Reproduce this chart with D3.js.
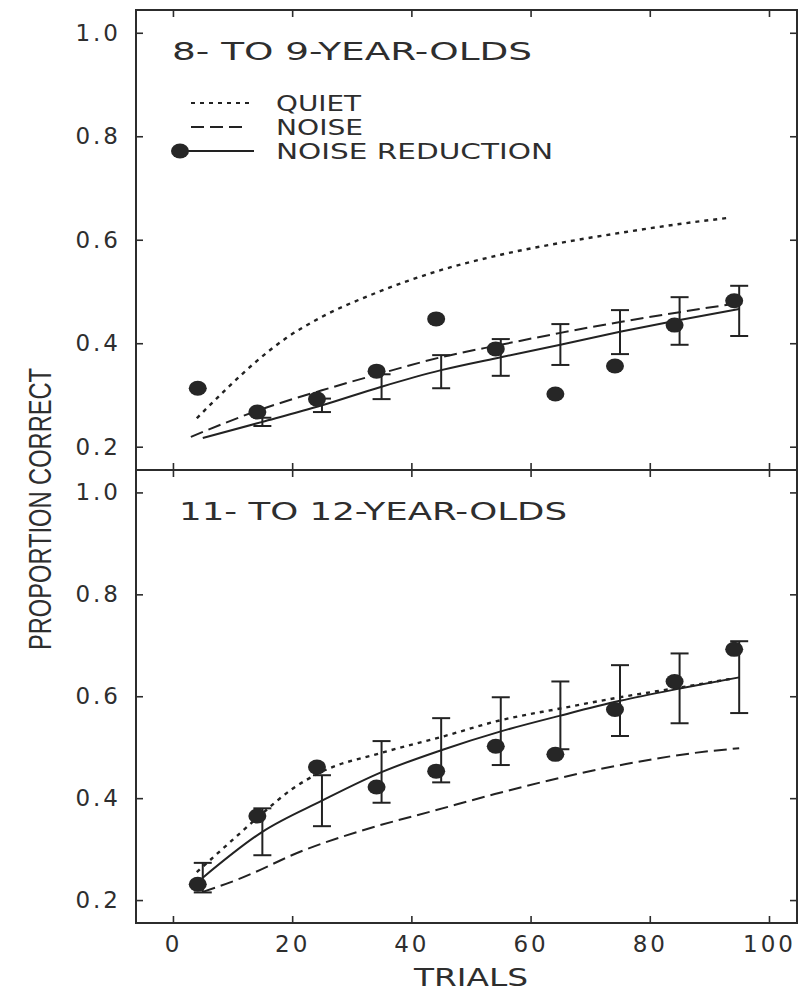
<!DOCTYPE html>
<html>
<head>
<meta charset="utf-8">
<script src="https://cdn.jsdelivr.net/npm/d3@7/dist/d3.min.js"></script>
<style>
  body { margin: 0; background: #fff; }
  svg { display: block; }
</style>
</head>
<body>
<svg id="chart" width="804" height="991"></svg>
<script>
// ---- data -------------------------------------------------------------
const trialTicks = [0, 20, 40, 60, 80, 100];
const propTicks = [0.2, 0.4, 0.6, 0.8, 1.0];
const blockTrials = [5, 15, 25, 35, 45, 55, 65, 75, 85, 95];

// 8- to 9-year-olds
const youngTitle = "8- TO 9-YEAR-OLDS";
const youngMean = [0.313, 0.267, 0.292, 0.346, 0.447, 0.389, 0.302, 0.356, 0.435, 0.482];
const youngBarLow = [null, 0.240, 0.267, 0.292, 0.313, 0.337, 0.358, 0.379, 0.397, 0.414];
const youngBarHigh = [null, 0.256, 0.293, 0.340, 0.377, 0.408, 0.437, 0.464, 0.489, 0.511];
const youngFitNR = [0.217, 0.248, 0.280, 0.316, 0.348, 0.373, 0.397, 0.422, 0.445, 0.466];
const youngNoiseTrials = [3, 15, 25, 35, 45, 55, 65, 75, 85, 94];
const youngNoise = [0.219, 0.273, 0.309, 0.342, 0.373, 0.397, 0.420, 0.441, 0.460, 0.476];
const youngQuietTrials = [4, 9, 14, 19, 25, 34, 44, 55, 66, 76, 86, 93];
const youngQuiet = [0.255, 0.312, 0.365, 0.410, 0.451, 0.497, 0.538, 0.571, 0.596, 0.615, 0.632, 0.642];

// 11- to 12-year-olds
const olderTitle = "11- TO 12-YEAR-OLDS";
const olderMean = [0.231, 0.365, 0.461, 0.422, 0.453, 0.502, 0.486, 0.574, 0.629, 0.692];
const olderBarLow = [0.215, 0.288, 0.345, 0.391, 0.431, 0.465, 0.496, 0.522, 0.547, 0.567];
const olderBarHigh = [0.273, 0.380, 0.445, 0.512, 0.557, 0.598, 0.629, 0.661, 0.684, 0.708];
const olderFitNR = [0.244, 0.334, 0.395, 0.451, 0.494, 0.531, 0.562, 0.591, 0.615, 0.637];
const olderNoiseTrials = [5, 11, 22, 33, 44, 54, 65, 76, 87, 95];
const olderNoise = [0.216, 0.241, 0.298, 0.341, 0.376, 0.408, 0.440, 0.467, 0.488, 0.498];
const olderQuietTrials = [4, 10, 15, 20, 25, 35, 45, 55, 65, 75, 85, 94];
const olderQuiet = [0.255, 0.318, 0.370, 0.418, 0.452, 0.489, 0.520, 0.553, 0.576, 0.598, 0.617, 0.635];

const legendLabels = ["QUIET", "NOISE", "NOISE REDUCTION"];

// ---- layout & styles ---------------------------------------------------
const ink = "#222";
const frameInk = "#2c2c2c";
const textInk = "#2e2e2e";
const dotted = "4,5";
const dashed = "13,6";
const tickLen = 7;
const dotShift = -5;           // markers sit just left of their error bars
const font = "'DejaVu Sans', Verdana, sans-serif";

const svg = d3.select("#chart");
svg.append("rect").attr("width", 804).attr("height", 991).attr("fill", "#fff");

const x = d3.scaleLinear().domain([-6.2, 104.7]).range([136, 797]);
const propDomain = [0.155, 1.044];

const panels = [
  { top: 10, bottom: 470, title: youngTitle, titleLen: 360, titleX: 172, mean: youngMean,
    lo: youngBarLow, hi: youngBarHigh, fit: youngFitNR,
    noiseT: youngNoiseTrials, noise: youngNoise, quietT: youngQuietTrials, quiet: youngQuiet,
    xLabels: false, legend: true },
  { top: 470, bottom: 923, title: olderTitle, titleLen: 388, titleX: 179, mean: olderMean,
    lo: olderBarLow, hi: olderBarHigh, fit: olderFitNR,
    noiseT: olderNoiseTrials, noise: olderNoise, quietT: olderQuietTrials, quiet: olderQuiet,
    xLabels: true, legend: false }
];

panels.forEach(p => {
  const y = d3.scaleLinear().domain(propDomain).range([p.bottom, p.top]);
  const g = svg.append("g");

  // axes: ticks point inward on all four sides
  const styleAxis = sel => {
    sel.select(".domain").remove();
    sel.selectAll(".tick line").attr("stroke", frameInk).attr("stroke-width", 1.6);
    sel.selectAll("text").attr("fill", textInk).attr("font-family", font)
      .attr("font-size", 23).attr("letter-spacing", 3);
  };
  g.append("g").attr("transform", `translate(${x.range()[0]},0)`)
    .call(d3.axisLeft(y).tickValues(propTicks).tickFormat(d3.format(".1f"))
      .tickSizeInner(-tickLen).tickSizeOuter(0).tickPadding(15))
    .call(styleAxis);
  g.append("g").attr("transform", `translate(${x.range()[1]},0)`)
    .call(d3.axisRight(y).tickValues(propTicks).tickFormat("")
      .tickSizeInner(-tickLen).tickSizeOuter(0))
    .call(styleAxis);
  g.append("g").attr("transform", `translate(0,${p.top})`)
    .call(d3.axisTop(x).tickValues(trialTicks).tickFormat("")
      .tickSizeInner(-tickLen).tickSizeOuter(0))
    .call(styleAxis);
  g.append("g").attr("transform", `translate(0,${p.bottom})`)
    .call(d3.axisBottom(x).tickValues(trialTicks)
      .tickFormat(p.xLabels ? d3.format("d") : "")
      .tickSizeInner(-tickLen).tickSizeOuter(0).tickPadding(13))
    .call(styleAxis);

  // frame
  g.append("rect")
    .attr("x", x.range()[0]).attr("y", p.top)
    .attr("width", x.range()[1] - x.range()[0]).attr("height", p.bottom - p.top)
    .attr("fill", "none").attr("stroke", frameInk).attr("stroke-width", 2);

  // panel title
  g.append("text").attr("x", p.titleX).attr("y", p.top + 50)
    .attr("font-family", font).attr("font-size", 24).attr("fill", textInk)
    .attr("textLength", p.titleLen).attr("lengthAdjust", "spacingAndGlyphs")
    .text(p.title);

  const line = d3.line().x(d => x(d[0])).y(d => y(d[1])).curve(d3.curveMonotoneX);

  // quiet (dotted) and noise (dashed) fits
  g.append("path").datum(d3.zip(p.quietT, p.quiet)).attr("d", line)
    .attr("fill", "none").attr("stroke", ink).attr("stroke-width", 2.4)
    .attr("stroke-dasharray", dotted);
  g.append("path").datum(d3.zip(p.noiseT, p.noise)).attr("d", line)
    .attr("fill", "none").attr("stroke", ink).attr("stroke-width", 2)
    .attr("stroke-dasharray", dashed);

  // noise-reduction fit (solid)
  g.append("path").datum(d3.zip(blockTrials, p.fit)).attr("d", line)
    .attr("fill", "none").attr("stroke", ink).attr("stroke-width", 2);

  // error bars
  const bars = blockTrials.map((t, i) => ({ t, lo: p.lo[i], hi: p.hi[i] }))
    .filter(d => d.lo != null);
  const bg = g.append("g").attr("stroke", ink).attr("stroke-width", 2);
  bars.forEach(d => {
    bg.append("line").attr("x1", x(d.t)).attr("x2", x(d.t))
      .attr("y1", y(d.lo)).attr("y2", y(d.hi));
    [d.lo, d.hi].forEach(v => bg.append("line")
      .attr("x1", x(d.t) - 9).attr("x2", x(d.t) + 9)
      .attr("y1", y(v)).attr("y2", y(v)));
  });

  // block means
  g.append("g").selectAll("ellipse").data(blockTrials.map((t, i) => [t, p.mean[i]]))
    .join("ellipse")
    .attr("cx", d => x(d[0]) + dotShift).attr("cy", d => y(d[1]))
    .attr("rx", 9).attr("ry", 7.5).attr("fill", "#262626");

  // legend
  if (p.legend) {
    const lg = g.append("g");
    const rows = [103, 127, 151];
    const lx0 = 191, lx1 = 254, tx = 276;
    lg.append("line").attr("x1", lx0).attr("x2", lx1).attr("y1", rows[0]).attr("y2", rows[0])
      .attr("stroke", ink).attr("stroke-width", 2.2).attr("stroke-dasharray", dotted);
    lg.append("line").attr("x1", lx0).attr("x2", lx1 - 8).attr("y1", rows[1]).attr("y2", rows[1])
      .attr("stroke", ink).attr("stroke-width", 2).attr("stroke-dasharray", dashed);
    lg.append("line").attr("x1", 180).attr("x2", lx1).attr("y1", rows[2]).attr("y2", rows[2])
      .attr("stroke", ink).attr("stroke-width", 2);
    lg.append("ellipse").attr("cx", 180).attr("cy", rows[2]).attr("rx", 9).attr("ry", 7.5)
      .attr("fill", "#262626");
    const lens = [85, 87, 277];
    legendLabels.forEach((s, i) => lg.append("text")
      .attr("x", tx).attr("y", rows[i] + 7.5)
      .attr("font-family", font).attr("font-size", 21).attr("fill", textInk)
      .attr("textLength", lens[i]).attr("lengthAdjust", "spacingAndGlyphs")
      .text(s));
  }
});

// axis titles
svg.append("text").attr("x", 414).attr("y", 986)
  .attr("font-family", font).attr("font-size", 25).attr("fill", textInk)
  .attr("textLength", 114).attr("lengthAdjust", "spacingAndGlyphs")
  .text("TRIALS");

svg.append("text")
  .attr("transform", "translate(51,650) rotate(-90)")
  .attr("font-family", "'Liberation Sans Narrow', 'Liberation Sans', Arial, sans-serif")
  .attr("font-size", 31).attr("fill", textInk)
  .attr("textLength", 282).attr("lengthAdjust", "spacingAndGlyphs")
  .text("PROPORTION CORRECT");
</script>
</body>
</html>
